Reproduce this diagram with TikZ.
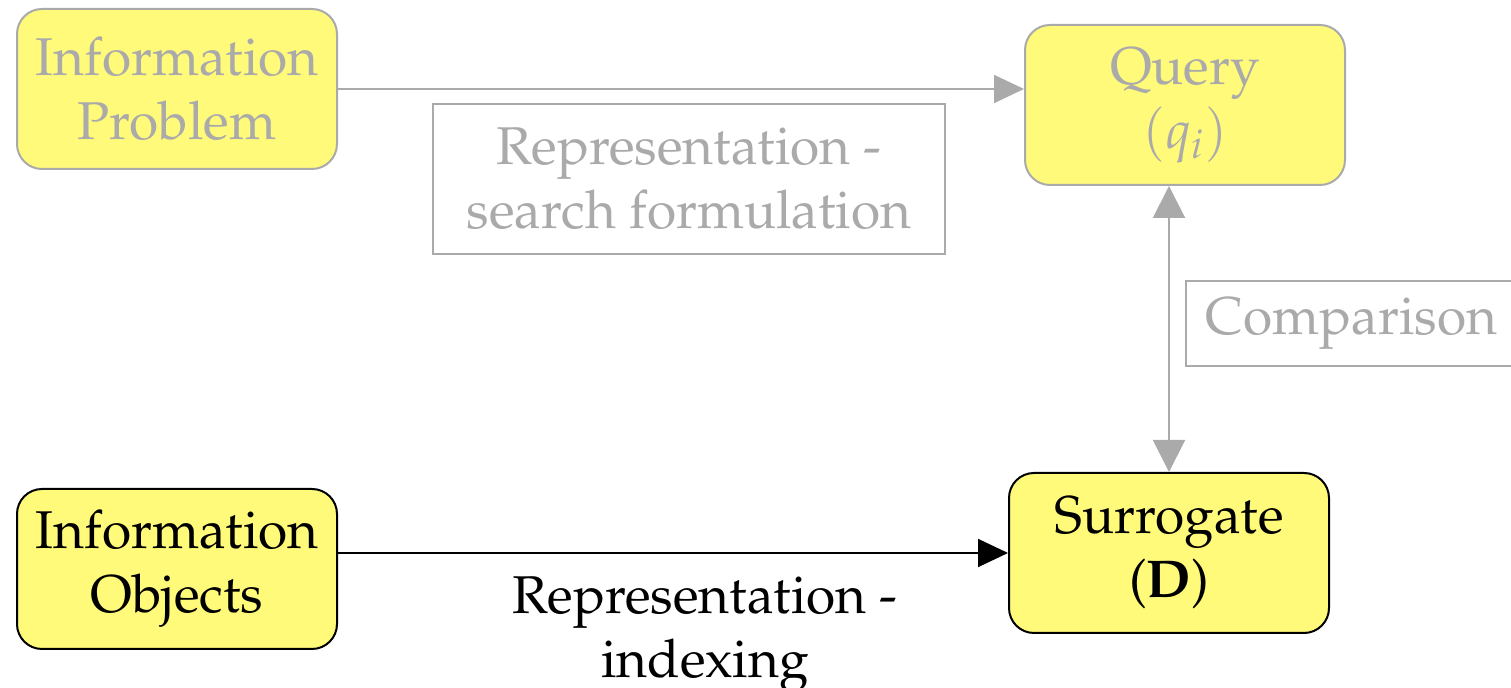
\documentclass[tikz,border=0pt]{standalone}
\usepackage[T1]{fontenc}
\usepackage{mathpazo}
\usetikzlibrary{arrows.meta}
\definecolor{boxyellow}{RGB}{255,250,122}
\definecolor{softgray}{RGB}{170,170,170}
\tikzset{
  txt/.style={font=\fontsize{26.6}{32}\selectfont, align=center},
  stage/.style={txt, rectangle, rounded corners=12.5pt, fill=boxyellow,
    line width=1pt, minimum width=160pt, minimum height=80pt, inner sep=0pt},
  faded/.style={stage, draw=softgray, text=softgray},
  active/.style={stage, draw=black, text=black},
  labelbox/.style={txt, rectangle, draw=softgray, text=softgray, line width=0.8pt},
  flow/.style={line width=1pt, -{Triangle[length=15pt,width=14pt]}},
}
\begin{document}
\begin{tikzpicture}[x=0.5pt,y=-0.5pt]
\useasboundingbox (0,0) rectangle (1511,688);

% the four stages
\node[faded]  (problem)   at (177,89)   {Information\\Problem};
\node[faded]  (query)     at (1185,105) {Query\\$(q_i)$};
\node[active] (objects)   at (177,569)  {Information\\Objects};
\node[active] (surrogate) at (1169,553) {Surrogate\\(\textbf{D})};

% labels of the processes
\node[labelbox, minimum width=256pt, minimum height=75pt, inner sep=0pt]
  (searchlbl) at (689,179) {Representation -\\search formulation};
\node[labelbox, anchor=west, minimum height=42.5pt, inner xsep=10pt, inner ysep=0pt]
  (complbl) at (1185,323.5) {Comparison};
\node[txt, anchor=north, inner sep=0pt] (indexlbl) at (705,576) {Representation -\\indexing};

% connectors
\coordinate (qfoot) at (query.south -| surrogate.north);
\draw[flow, draw=softgray, fill=softgray] (problem.east |- 0,89) -- (query.west |- 0,89);
\draw[flow, draw=black, fill=black] (objects.east |- 0,553) -- (surrogate.west);
\draw[line width=1pt, draw=softgray, fill=softgray,
      {Triangle[length=16pt,width=16pt]}-{Triangle[length=16pt,width=16pt]}]
  (qfoot) -- (surrogate.north);
\end{tikzpicture}
\end{document}
